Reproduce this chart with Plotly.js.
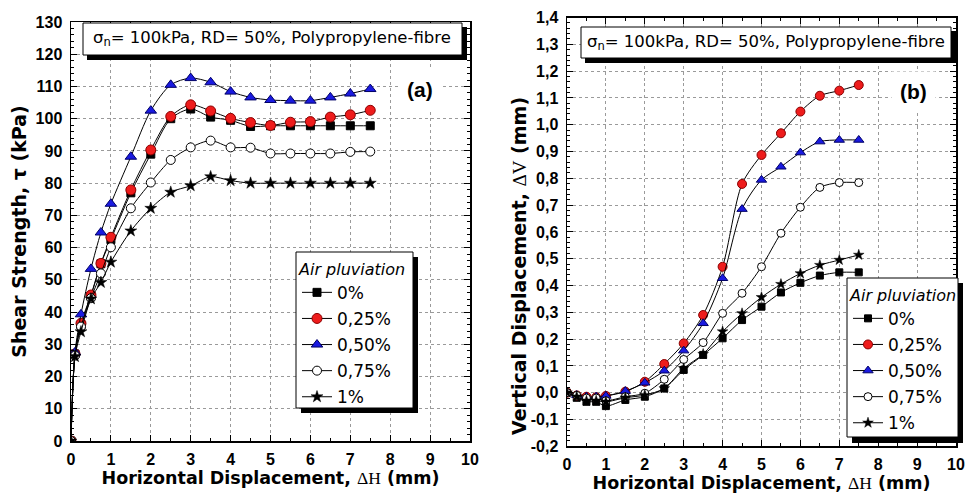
<!DOCTYPE html>
<html>
<head>
<meta charset="utf-8">
<script src="https://cdn.plot.ly/plotly-3.0.1.min.js"></script>
<style>html,body{margin:0;padding:0;background:#fff;}#chart{width:973px;height:495px;}</style>
</head>
<body>
<div id="chart"></div>
<script>
// ---- data ----
const seriesNames = ['0%', '0,25%', '0,50%', '0,75%', '1%'];

// (a) shear strength vs horizontal displacement
const dispA = [0, 0.1, 0.25, 0.5, 0.75, 1, 1.5, 2, 2.5, 3, 3.5, 4, 4.5, 5, 5.5, 6, 6.5, 7, 7.5];
const tau0   = [0, 27, 36, 45, 55, 62.5, 77, 89, 100, 103, 100.5, 99.5, 97.6, 97.8, 97.8, 97.8, 97.8, 97.8, 97.8];
const tau025 = [0, 27, 36.5, 45.3, 55.1, 63.2, 77.9, 90.3, 100.7, 104.3, 102.4, 100.1, 98.8, 97.9, 98.9, 99.1, 100.5, 101.2, 102.6];
const tau050 = [0, 27.5, 39.3, 53.4, 64.7, 73.6, 88.2, 102.5, 110.5, 112.6, 111.3, 108.4, 106.6, 105.8, 105.6, 105.6, 106.6, 107.8, 109.2];
const tau075 = [0, 26.5, 35.5, 44.3, 52, 60.1, 72.2, 80.2, 87.2, 91.1, 93.2, 91.1, 91.0, 89.2, 89.2, 89.2, 89.2, 89.7, 89.8];
const tau1   = [0, 26.2, 33.9, 44.1, 49.2, 55.5, 65.2, 72.2, 77.2, 79.2, 82.0, 80.8, 80.0, 80.0, 80.0, 80.0, 80.0, 80.0, 80.0];

// (b) vertical displacement vs horizontal displacement
const dispB = [0, 0.25, 0.5, 0.75, 1, 1.5, 2, 2.5, 3, 3.5, 4, 4.5, 5, 5.5, 6, 6.5, 7, 7.5];
const dv0   = [0, -0.019, -0.034, -0.034, -0.05, -0.027, -0.015, 0.016, 0.085, 0.141, 0.203, 0.271, 0.321, 0.374, 0.41, 0.437, 0.449, 0.449];
const dv025 = [0, -0.01, -0.015, -0.017, -0.012, 0.004, 0.041, 0.107, 0.184, 0.29, 0.47, 0.779, 0.887, 0.968, 1.049, 1.108, 1.127, 1.148];
const dv050 = [0, -0.009, -0.015, -0.015, -0.012, 0.006, 0.037, 0.082, 0.157, 0.259, 0.427, 0.685, 0.794, 0.843, 0.896, 0.937, 0.943, 0.943];
const dv075 = [0, -0.01, -0.02, -0.02, -0.03, -0.015, -0.002, 0.05, 0.124, 0.187, 0.296, 0.371, 0.47, 0.595, 0.692, 0.766, 0.784, 0.784];
const dv1   = [0, -0.015, -0.03, -0.03, -0.034, -0.019, -0.009, 0.016, 0.091, 0.144, 0.228, 0.296, 0.356, 0.405, 0.445, 0.476, 0.495, 0.514];

const xTickVals = [0, 1, 2, 3, 4, 5, 6, 7, 8, 9, 10];
const yTickValsB = [-0.2, -0.1, 0, 0.1, 0.2, 0.3, 0.4, 0.5, 0.6, 0.7, 0.8, 0.9, 1.0, 1.1, 1.2, 1.3, 1.4];
const yTickTextB = ['-0,2', '-0,1', '0,0', '0,1', '0,2', '0,3', '0,4', '0,5', '0,6', '0,7', '0,8', '0,9', '1,0', '1,1', '1,2', '1,3', '1,4'];
const boxText = 'σ<sub>n</sub>= 100kPa, RD= 50%, Polypropylene-fibre';
const xTitle = 'Horizontal Displacement, <span style="font-family:Liberation Serif;font-weight:normal">ΔH</span> (mm)';
const yTitleA = 'Shear Strength, τ (kPa)';
const yTitleB = 'Vertical Displacement, <span style="font-family:Liberation Serif;font-weight:normal">ΔV</span> (mm)';

// ---- styles ----
const W = 973, H = 495;
const px = x => x / W, py = y => 1 - y / H;
const markerStyles = [
  {symbol: 'square', color: '#000000', size: 8, line: {color: '#000', width: 1}},
  {symbol: 'circle', color: '#ee1c1c', size: 10, line: {color: '#8a0000', width: 1}},
  {symbol: 'triangle-up', color: '#1a1ae0', size: 10, line: {color: '#000066', width: 1}},
  {symbol: 'circle', color: '#ffffff', size: 9, line: {color: '#000', width: 1}},
  {symbol: 'star', color: '#000000', size: 9, line: {color: '#000', width: 0.5}}
];
const seriesA = [tau0, tau025, tau050, tau075, tau1];
const seriesB = [dv0, dv025, dv050, dv075, dv1];

const traces = [];
seriesA.forEach((ys, i) => traces.push({
  x: dispA, y: ys, name: seriesNames[i], type: 'scatter', mode: 'lines+markers',
  xaxis: 'x', yaxis: 'y', legend: 'legend', legendgroup: 'a' + i,
  line: {color: '#000', width: 1, shape: 'spline', smoothing: 0.8},
  marker: markerStyles[i]
}));
seriesB.forEach((ys, i) => traces.push({
  x: dispB, y: ys, name: seriesNames[i], type: 'scatter', mode: 'lines+markers',
  xaxis: 'x2', yaxis: 'y2', legend: 'legend2', legendgroup: 'b' + i,
  line: {color: '#000', width: 1, shape: 'spline', smoothing: 0.8},
  marker: Object.assign({}, markerStyles[i], {size: markerStyles[i].size - 1})
}));

const tickFont = {family: 'Liberation Sans, Arial, sans-serif', size: 16, color: '#000', weight: 'bold'};
const xTitleFont = {family: 'DejaVu Sans, sans-serif', size: 17.5, color: '#000', weight: 'bold'};
const yTitleFont = {family: 'DejaVu Sans, sans-serif', size: 19, color: '#000', weight: 'bold'};
const textFont = {family: 'DejaVu Sans, sans-serif', size: 17, color: '#000'};
const legTitleFont = {family: 'DejaVu Sans, sans-serif', size: 16, color: '#000', style: 'italic'};

function xAxis(domain, anchor) {
  return {
    domain: domain, anchor: anchor, range: [0, 10], tickvals: xTickVals,
    ticks: 'inside', ticklen: 6, tickwidth: 1, tickcolor: '#000',
    showline: true, linecolor: '#000', linewidth: 1.5, mirror: 'ticks',
    showgrid: true, gridcolor: '#9a9a9a', griddash: 'dot', gridwidth: 1,
    zeroline: false, tickfont: tickFont, automargin: false, ticklabelstandoff: 3,
    minor: {dtick: 0.5, ticks: 'inside', ticklen: 3, tickcolor: '#000', showgrid: false},
    title: {text: xTitle, font: xTitleFont, standoff: 3}
  };
}

const layout = {
  width: W, height: H,
  margin: {l: 0, r: 0, t: 0, b: 0},
  paper_bgcolor: '#fff', plot_bgcolor: '#fff',
  showlegend: true,
  xaxis: xAxis([px(71), px(470)], 'y'),
  xaxis2: xAxis([px(567), px(956)], 'y2'),
  yaxis: {
    domain: [py(441), py(22)], anchor: 'x', range: [0, 130], dtick: 10,
    ticks: 'inside', ticklen: 6, tickcolor: '#000',
    showline: true, linecolor: '#000', linewidth: 1.5, mirror: 'ticks',
    showgrid: true, gridcolor: '#9a9a9a', griddash: 'dot', gridwidth: 1,
    zeroline: false, tickfont: tickFont, automargin: false, ticklabelstandoff: 4,
    minor: {dtick: 2, ticks: 'inside', ticklen: 3, tickcolor: '#000', showgrid: false},
    title: {text: yTitleA, font: yTitleFont, standoff: 4}
  },
  yaxis2: {
    domain: [py(446.3), py(17.5)], anchor: 'x2', range: [-0.2, 1.4],
    tickvals: yTickValsB, ticktext: yTickTextB,
    ticks: 'inside', ticklen: 6, tickcolor: '#000',
    showline: true, linecolor: '#000', linewidth: 1.5, mirror: 'ticks',
    showgrid: true, gridcolor: '#9a9a9a', griddash: 'dot', gridwidth: 1,
    zeroline: false, tickfont: tickFont, automargin: false, ticklabelstandoff: 4,
    minor: {dtick: 0.02, ticks: 'inside', ticklen: 3, tickcolor: '#000', showgrid: false}
  },
  legend: {
    x: px(297), y: py(254), xanchor: 'left', yanchor: 'top',
    bgcolor: 'rgba(0,0,0,0)', borderwidth: 0,
    font: textFont, tracegroupgap: 1, itemwidth: 30,
    title: {text: 'Air pluviation', font: legTitleFont}
  },
  legend2: {
    x: px(848), y: py(280), xanchor: 'left', yanchor: 'top',
    bgcolor: 'rgba(0,0,0,0)', borderwidth: 0,
    font: textFont, tracegroupgap: 1, itemwidth: 30,
    title: {text: 'Air pluviation', font: legTitleFont}
  },
  shapes: [
    // title box (a) shadow + box
    {type: 'rect', xref: 'paper', yref: 'paper', x0: px(87), x1: px(467), y0: py(60), y1: py(27), fillcolor: '#000', line: {width: 0}, layer: 'above'},
    {type: 'rect', xref: 'paper', yref: 'paper', x0: px(83), x1: px(462), y0: py(55), y1: py(23), fillcolor: '#fff', line: {color: '#000', width: 1}, layer: 'above'},
    // title box (b)
    {type: 'rect', xref: 'paper', yref: 'paper', x0: px(585), x1: px(956), y0: py(63), y1: py(31), fillcolor: '#000', line: {width: 0}, layer: 'above'},
    {type: 'rect', xref: 'paper', yref: 'paper', x0: px(581), x1: px(951), y0: py(58), y1: py(27), fillcolor: '#fff', line: {color: '#000', width: 1}, layer: 'above'},
    // legend (a) box
    {type: 'rect', xref: 'paper', yref: 'paper', x0: px(301), x1: px(418), y0: py(413), y1: py(257), fillcolor: '#000', line: {width: 0}, layer: 'above'},
    {type: 'rect', xref: 'paper', yref: 'paper', x0: px(296), x1: px(413), y0: py(408), y1: py(252), fillcolor: '#fff', line: {color: '#000', width: 1}, layer: 'above'},
    // legend (b) box
    {type: 'rect', xref: 'paper', yref: 'paper', x0: px(852), x1: px(963), y0: py(443), y1: py(283), fillcolor: '#000', line: {width: 0}, layer: 'above'},
    {type: 'rect', xref: 'paper', yref: 'paper', x0: px(847), x1: px(958), y0: py(437), y1: py(278), fillcolor: '#fff', line: {color: '#000', width: 1}, layer: 'above'}
  ],
  annotations: [
    {xref: 'paper', yref: 'paper', x: px(272), y: py(39), text: boxText, showarrow: false, font: {family: 'DejaVu Sans, sans-serif', size: 16.5, color: '#000'}, xanchor: 'center', yanchor: 'middle'},
    {xref: 'paper', yref: 'paper', x: px(766), y: py(42.5), text: boxText, showarrow: false, font: {family: 'DejaVu Sans, sans-serif', size: 16.5, color: '#000'}, xanchor: 'center', yanchor: 'middle'},
    {xref: 'paper', yref: 'paper', x: px(420), y: py(89), text: '(a)', showarrow: false, font: {family: 'Liberation Sans, Arial, sans-serif', size: 21, color: '#000', weight: 'bold'}, bgcolor: '#fff', borderpad: 8, xanchor: 'center', yanchor: 'middle'},
    {xref: 'paper', yref: 'paper', x: px(913), y: py(92), text: '(b)', showarrow: false, font: {family: 'Liberation Sans, Arial, sans-serif', size: 21, color: '#000', weight: 'bold'}, bgcolor: '#fff', borderpad: 8, xanchor: 'center', yanchor: 'middle'},
    {xref: 'paper', yref: 'paper', x: px(519), y: py(266), text: yTitleB, textangle: -90, showarrow: false, font: yTitleFont, xanchor: 'center', yanchor: 'middle'}
  ]
};

Plotly.newPlot('chart', traces, layout, {displayModeBar: false, staticPlot: true});
</script>
</body>
</html>
